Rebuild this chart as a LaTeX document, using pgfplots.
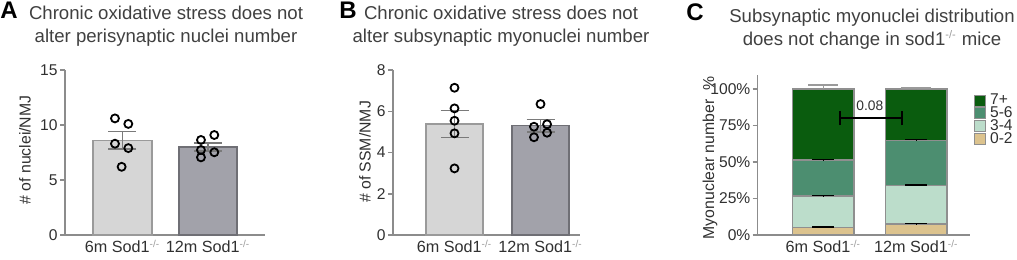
\documentclass[border=0pt]{standalone}
\usepackage{fontspec}
\setmainfont{Liberation Sans}
\setsansfont{Liberation Sans}
\usepackage{pgfplots}
\pgfplotsset{compat=1.18}
\definecolor{axgray}{HTML}{8C8C8C}
\definecolor{tickgray}{HTML}{303030}
\definecolor{titlegray}{HTML}{404040}
\definecolor{supgray}{HTML}{9A9A9A}
\definecolor{bara}{HTML}{D6D6D6}
\definecolor{barad}{HTML}{9A9A9A}
\definecolor{barb}{HTML}{A2A2AA}
\definecolor{barbd}{HTML}{6F6F75}
\definecolor{errgray}{HTML}{7A7A7A}
\definecolor{cseven}{HTML}{0A5C0E}
\definecolor{cfive}{HTML}{4C8E70}
\definecolor{cthree}{HTML}{BCDDCB}
\definecolor{czero}{HTML}{DCC38E}
\definecolor{bgray}{HTML}{8F8F8F}
\newcommand{\sod}[1]{#1 Sod1\textsuperscript{\color{supgray}\fontsize{5}{5}\selectfont -/-}}
\pgfplotsset{
 panel/.style={
  scale only axis,
  axis x line=bottom, axis y line=left,
  axis line style={-, draw=axgray, line width=0.75pt},
  tick align=outside,
  ytick style={draw=axgray, line width=0.75pt},
  major tick length=2.5pt,
  xtick style={draw=none},
  /pgf/number format/assume math mode=true,
  tick label style={font=\fontsize{7.8}{8}\selectfont, text=tickgray},
  yticklabel style={inner sep=1pt},
  xticklabel style={font=\fontsize{8.1}{9}\selectfont, text=tickgray, yshift=3.5pt},
  clip=false,
 },
 errs/.style={error bars/.cd, y dir=both, y explicit,
   error bar style={draw=errgray, line width=0.75pt},
   error mark options={rotate=90, mark size=7pt, line width=0.75pt, draw=errgray}},
 pts/.style={only marks, mark=o, mark size=2pt, mark options={line width=0.9pt, draw=black}},
}
\begin{document}
\begin{tikzpicture}
\useasboundingbox (0,0) rectangle (508.5pt,129.5pt);
% ---------------- Panel A
\begin{axis}[panel, at={(32.5pt,12pt)}, anchor=south west, width=100pt, height=82.5pt,
  xmin=-0.6725, xmax=1.667, ymin=0, ymax=15, ytick={0,5,10,15},
  xtick={0,1}, xticklabels={{\sod{6m}},{\sod{12m}}}]
\addplot[ybar, bar shift=0pt, bar width=29.5pt, fill=bara, draw=barad, line width=0.75pt, errs] coordinates {(0,8.6) +- (0,0.8)};
\addplot[ybar, bar shift=0pt, bar width=29pt, fill=barb, draw=barbd, line width=0.75pt, errs] coordinates {(1,8.0) +- (0,0.35)};
\addplot[pts] table {
x y
-0.088 10.6
0.068 10.1
-0.088 8.3
0.068 7.9
-0.01 6.2
0.918 8.64
1.074 9.09
0.918 7.73
1.074 7.52
0.918 7.06
};
\end{axis}
% ---------------- Panel B
\begin{axis}[panel, at={(196.5pt,12pt)}, anchor=south west, width=93.5pt, height=82.5pt,
  xmin=-0.715, xmax=1.459, ymin=0, ymax=8, ytick={0,2,4,6,8},
  xtick={0,1}, xticklabels={{\sod{6m}},{\sod{12m}}}]
\addplot[ybar, bar shift=0pt, bar width=28.5pt, fill=bara, draw=barad, line width=0.75pt, errs] coordinates {(0,5.38) +- (0,0.66)};
\addplot[ybar, bar shift=0pt, bar width=28.5pt, fill=barb, draw=barbd, line width=0.75pt, errs] coordinates {(1,5.3) +- (0,0.31)};
\addplot[pts] table {
x y
0 7.14
0 6.14
0 5.54
0 4.93
0 3.23
1.0 6.35
0.924 5.25
1.076 5.37
1.076 4.96
0.924 4.74
};
\end{axis}
% ---------------- Panel C
\begin{axis}[panel, at={(378.85pt,12pt)}, anchor=south west, width=106pt, height=80pt,
  ybar stacked, bar width=30.8pt,
  xmin=-0.704, xmax=1.574, ymin=0, ymax=109.6,
  ytick={0,25,50,75,100}, yticklabels={0\%,25\%,50\%,75\%,100\%},
  xtick={0,1}, xticklabels={{\sod{6m}},{\sod{12m}}},
  reverse legend,
  legend cell align=left,
  legend image code/.code={\draw[#1, draw=bgray, line width=0.5pt] (0pt,-2.75pt) rectangle (5.5pt,2.75pt);},
  legend style={draw=none, fill=none, inner sep=0pt, at={(1.0,0.91)}, anchor=north west, xshift=2pt,
    font=\fontsize{7.8}{7.8}\selectfont, text=tickgray, row sep=-4.5pt},
  every axis plot/.append style={draw=bgray, line width=0.6pt},
  cerr/.style={error bars/.cd, y dir=plus, y explicit,
   error bar style={draw=black, line width=0.6pt},
   error mark options={rotate=90, mark size=5.5pt, line width=0.8pt, draw=black}},
]
\addplot[fill=czero, cerr] coordinates {(0,5.0) +- (0,0.3) (1,7.5) +- (0,0.3)};
\addplot[fill=cthree, cerr] coordinates {(0,21.7) +- (0,0.3) (1,26.5) +- (0,0.3)};
\addplot[fill=cfive, cerr] coordinates {(0,24.7) +- (0,0.3) (1,31.0) +- (0,0.3)};
\addplot[fill=cseven, error bars/.cd, y dir=plus, y explicit,
   error bar style={draw=supgray, line width=0.6pt},
   error mark options={rotate=90, mark size=7.5pt, line width=0.8pt, draw=supgray}]
   coordinates {(0,48.6) +- (0,2.8) (1,35.0) +- (0,0.5)};
\legend{0-2,3-4,5-6,7+}
\coordinate (bl) at (axis cs:0.18,80);
\coordinate (br) at (axis cs:0.85,80);
\coordinate (blb) at (axis cs:0.18,75.3);
\coordinate (blt) at (axis cs:0.18,85);
\coordinate (brb) at (axis cs:0.85,75.3);
\coordinate (brt) at (axis cs:0.85,85);
\coordinate (lab) at (axis cs:0.50,88.8);
\end{axis}
\draw[black, line width=1pt] (bl) -- (br);
\draw[black, line width=1pt] (blb) -- (blt);
\draw[black, line width=1pt] (brb) -- (brt);
\node[font=\fontsize{6.9}{7}\selectfont, text=tickgray] at (lab) {0.08};
% ---------------- titles and labels
\node[align=center, font=\fontsize{9.3}{11.5}\selectfont, text=titlegray] at (83pt,116.25pt) {Chronic oxidative stress does not\\alter perisynaptic nuclei number};
\node[align=center, font=\fontsize{9.3}{11.5}\selectfont, text=titlegray] at (250.5pt,116.25pt) {Chronic oxidative stress does not\\alter subsynaptic myonuclei number};
\node[align=center, font=\fontsize{9.3}{11.5}\selectfont, text=titlegray] at (436pt,114.75pt) {Subsynaptic myonuclei distribution\\does not change in sod1\textsuperscript{\color{supgray}\fontsize{5.5}{5.5}\selectfont -/-} mice};
\node[font=\bfseries\fontsize{12}{12}\selectfont] at (4.5pt,124.5pt) {A};
\node[font=\bfseries\fontsize{12}{12}\selectfont] at (174pt,124.5pt) {B};
\node[font=\bfseries\fontsize{12}{12}\selectfont] at (347.5pt,123.5pt) {C};
\node[rotate=90, font=\fontsize{7.9}{8}\selectfont, text=tickgray] at (12.5pt,54.5pt) {\# of nuclei/NMJ};
\node[rotate=90, font=\fontsize{7.9}{8}\selectfont, text=tickgray] at (182.5pt,53.5pt) {\# of SSM/NMJ};
\node[rotate=90, font=\fontsize{7.9}{8}\selectfont, text=tickgray] at (355pt,50.5pt) {Myonuclear number~~\%};
\end{tikzpicture}
\end{document}
